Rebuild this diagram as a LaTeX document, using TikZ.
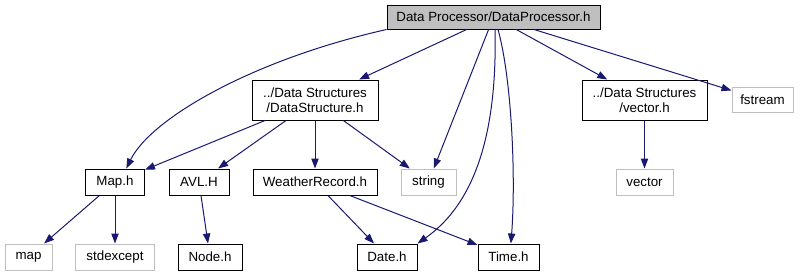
\documentclass[tikz,border=0pt]{standalone}
\usepackage{fontspec}
\setmainfont{Liberation Sans}
\usetikzlibrary{arrows.meta}
\definecolor{depB}{RGB}{25,25,112}
\definecolor{sysG}{RGB}{191,191,191}

\begin{document}
\begin{tikzpicture}[x=0.75pt,y=-0.75pt,font=\fontsize{10}{11.5}\selectfont,
  hdr/.style={draw=black,line width=0.75pt,fill=white,inner sep=0pt,minimum height=19.5pt,align=center},
  sys/.style={hdr,draw=sysG},
  root/.style={hdr,fill=sysG,minimum height=18pt},
  dep/.style={depB,line width=0.75pt,-{Triangle[length=7.5pt,width=5.5pt]}}]
\useasboundingbox (0,0) rectangle (803,276);
% top file
\node[root,minimum width=159.75pt] (proc) at (493.5,17) {Data Processor/DataProcessor.h};
% second row
\node[hdr,minimum width=94.5pt,minimum height=30pt] (ds) at (315,100) {../Data Structures\\/DataStructure.h};
\node[hdr,minimum width=93.75pt,minimum height=30pt] (vech) at (644.5,100) {../Data Structures\\/vector.h};
\node[sys,minimum width=45.75pt,minimum height=19pt] (fstream) at (762.5,100) {fstream};
% third row
\node[hdr,minimum width=44.25pt] (maph) at (115,182) {Map.h};
\node[hdr,minimum width=45pt] (avl) at (199,182) {AVL.H};
\node[hdr,minimum width=93pt] (wr) at (315,182) {WeatherRecord.h};
\node[sys,minimum width=41.25pt] (string) at (428.5,182) {string};
\node[sys,minimum width=42.75pt] (vector) at (644.5,182) {vector};
% bottom row
\node[sys,minimum width=35.25pt] (map) at (28.5,257) {map};
\node[sys,minimum width=59.25pt] (stdexcept) at (115,257) {stdexcept};
\node[hdr,minimum width=48pt] (nodeh) at (210,257) {Node.h};
\node[hdr,minimum width=45pt] (date) at (387,257) {Date.h};
\node[hdr,minimum width=45.75pt] (time) at (508.5,257) {Time.h};

% includes of the top file
\draw[dep] (proc.south west) .. controls +(-137,31) and +(24,-49) .. (maph.50);
\draw[dep] (proc) -- (ds);
\draw[dep] (proc) -- (string);
\draw[dep] (proc.-83) .. controls +(2,91) and +(63,-44) .. (date.north east);
\draw[dep] (proc.-70) .. controls +(14,51) and +(5,-64) .. (time.80);
\draw[dep] (proc) -- (vech);
\draw[dep] (proc) -- (fstream);
% the rest
\draw[dep] (ds) -- (maph);
\draw[dep] (ds) -- (avl);
\draw[dep] (ds) -- (wr);
\draw[dep] (ds) -- (string);
\draw[dep] (vech) -- (vector);
\draw[dep] (maph) -- (map);
\draw[dep] (maph) -- (stdexcept);
\draw[dep] (avl) -- (nodeh);
\draw[dep] (wr) -- (date);
\draw[dep] (wr) -- (time);
\end{tikzpicture}
\end{document}
